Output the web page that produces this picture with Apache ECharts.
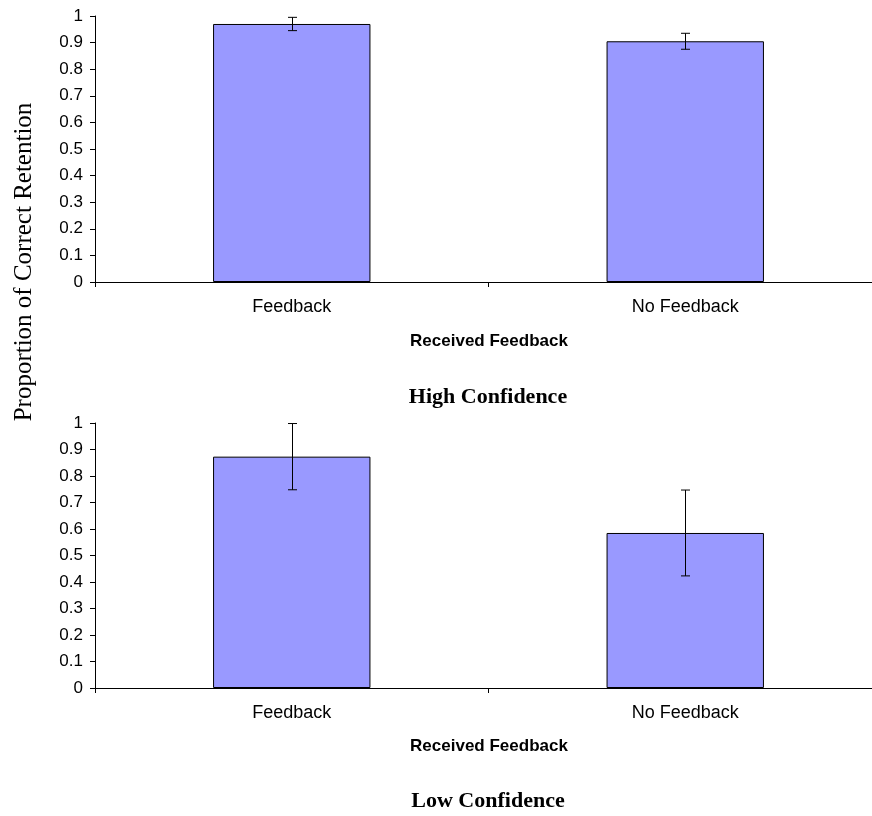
<!DOCTYPE html>
<html>
<head>
<meta charset="utf-8">
<script src="https://cdn.jsdelivr.net/npm/echarts@6/dist/echarts.min.js"></script>
<style>html,body{margin:0;padding:0;background:#fff;overflow:hidden;}#c{width:884px;height:816px;}</style>
</head>
<body>
<div id="c"></div>
<script>
const categories = ['Feedback', 'No Feedback'];
const highMeans = [0.97, 0.905];
const highErr = [0.025, 0.03];
const lowMeans = [0.873, 0.585];
const lowErr = [0.125, 0.162];
const yMin = 0, yMax = 1, yInterval = 0.1;
const xAxisName = 'Received Feedback';
const yAxisName = 'Proportion of Correct Retention';
const titles = ['High Confidence', 'Low Confidence'];

const chart = echarts.init(document.getElementById('c'));

function errData(means, errs) {
  return means.map((m, i) => [i, m - errs[i], m + errs[i]]);
}
function renderErr(params, api) {
  const lo = api.coord([api.value(0), api.value(1)]);
  const hi = api.coord([api.value(0), api.value(2)]);
  const x = Math.round(lo[0]) + 0.5;
  const cw = 4.5;
  const st = { stroke: '#000', lineWidth: 1 };
  return {
    type: 'group',
    children: [
      { type: 'line', shape: { x1: x, y1: lo[1], x2: x, y2: hi[1] }, style: st },
      { type: 'line', shape: { x1: x - cw, y1: lo[1], x2: x + cw, y2: lo[1] }, style: st },
      { type: 'line', shape: { x1: x - cw, y1: hi[1], x2: x + cw, y2: hi[1] }, style: st }
    ]
  };
}

const grids = [
  { left: 95, top: 16, width: 787, height: 266 },
  { left: 95, top: 423, width: 787, height: 265 }
];
const axisLine = { show: true, lineStyle: { color: '#000', width: 1 } };
const xAxes = grids.map((g, i) => ({
  type: 'category', gridIndex: i, data: categories,
  axisLine: axisLine,
  axisTick: { show: true, length: 5, inside: false, lineStyle: { color: '#000' } },
  axisLabel: { color: '#000', fontFamily: 'Liberation Sans', fontSize: 18, margin: 16 }
}));
const yAxes = grids.map((g, i) => ({
  type: 'value', gridIndex: i, min: yMin, max: yMax, interval: yInterval,
  axisLine: axisLine,
  axisTick: { show: true, length: 5, lineStyle: { color: '#000' } },
  splitLine: { show: false },
  axisLabel: { color: '#000', fontFamily: 'Liberation Sans', fontSize: 17, margin: 12 }
}));

const barStyle = { color: '#9999FF', borderColor: '#000', borderWidth: 1 };
const series = [
  { type: 'bar', xAxisIndex: 0, yAxisIndex: 0, data: highMeans, barWidth: '40%', itemStyle: barStyle, silent: true },
  { type: 'custom', xAxisIndex: 0, yAxisIndex: 0, data: errData(highMeans, highErr), renderItem: renderErr, z: 5, silent: true },
  { type: 'bar', xAxisIndex: 1, yAxisIndex: 1, data: lowMeans, barWidth: '40%', itemStyle: barStyle, silent: true },
  { type: 'custom', xAxisIndex: 1, yAxisIndex: 1, data: errData(lowMeans, lowErr), renderItem: renderErr, z: 5, silent: true }
];

const txt = (x, y, text, font, size, weight, rot) => ({
  type: 'text', x: x, y: y, rotation: rot || 0,
  style: { text: text, fill: '#000', font: (weight || 'normal') + ' ' + size + 'px "' + font + '"', textAlign: 'center', textVerticalAlign: 'middle' }
});

chart.setOption({
  animation: false,
  grid: grids,
  xAxis: xAxes,
  yAxis: yAxes,
  series: series,
  graphic: [
    txt(489, 341, xAxisName, 'Liberation Sans', 17, 'bold'),
    txt(489, 746, xAxisName, 'Liberation Sans', 17, 'bold'),
    txt(488, 397, titles[0], 'Liberation Serif', 22, 'bold'),
    txt(488, 801, titles[1], 'Liberation Serif', 22, 'bold'),
    txt(24, 262, yAxisName, 'Liberation Serif', 25, 'normal', Math.PI / 2)
  ]
});
</script>
</body>
</html>
